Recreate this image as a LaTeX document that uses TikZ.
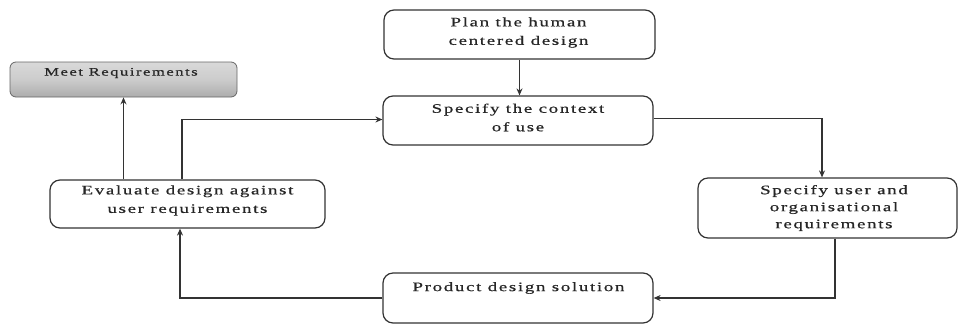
\documentclass[tikz,border=0pt]{standalone}
\usepackage{fontspec}
\setmainfont[FakeStretch=1.45,LetterSpace=13,FakeBold=0.6]{Liberation Serif}
\usetikzlibrary{arrows.meta}
\definecolor{linec}{HTML}{333333}
\tikzset{
  box/.style={draw=linec, line width=1.2pt, rounded corners=10pt, fill=white},
  lbl/.style={align=center, inner sep=0pt, text=black!85, font=\fontsize{13}{18.5}\selectfont},
  conn/.style={draw=linec, line width=1.3pt, -{Stealth[length=7pt,width=6pt]}},
  plain/.style={draw=linec, line width=1.3pt}
}
\begin{document}
\begin{tikzpicture}[x=1pt,y=-1pt]
\useasboundingbox (0,0) rectangle (960,325);
% boxes
\node[box, minimum width=271pt, minimum height=49pt] (plan) at (519.5,34.5) {};
\node[box, minimum width=270pt, minimum height=49pt] (ctx) at (518,120.5) {};
\node[box, minimum width=259pt, minimum height=60pt] (user) at (827.5,208) {};
\node[box, minimum width=270pt, minimum height=50pt] (prod) at (518,298) {};
\node[box, minimum width=275pt, minimum height=48pt] (eval) at (187.5,204) {};
\node[draw=gray!80!black, line width=0.8pt, rounded corners=6pt, top color=gray!30, bottom color=gray!65, middle color=gray!40, minimum width=227pt, minimum height=35pt] (meet) at (123.5,79.5) {};
% texts
\node[lbl] (tplan) at (518.5,32.5) {Plan the human\\centered design};
\node[lbl] (tctx) at (518,117.5) {Specify the context\\of use};
\node[lbl, font=\fontsize{13}{17}\selectfont] (tuser) at (834,208) {Specify user and\\organisational\\requirements};
\node[lbl] (tprod) at (518.5,288) {Product design solution};
\node[lbl] (teval) at (187.5,200.5) {Evaluate design against\\user requirements};
\node[lbl, font=\fontsize{11.5}{14}\selectfont] (tmeet) at (121,73) {Meet Requirements};
% connectors
\draw[conn] (plan.south) -- (plan.south |- ctx.north);
\draw[conn] ([yshift=2pt]ctx.east) -| ([xshift=-5.5pt]user.north);
\draw[conn] ([xshift=7.5pt]user.south) |- (prod.east);
\draw[conn] (prod.west) -| ([xshift=-7.5pt]eval.south);
\draw[conn] ([xshift=-5.5pt]eval.north) |- ([yshift=1pt]ctx.west);
\draw[conn] (meet.south |- eval.north) -- (meet.south);
\end{tikzpicture}
\end{document}
